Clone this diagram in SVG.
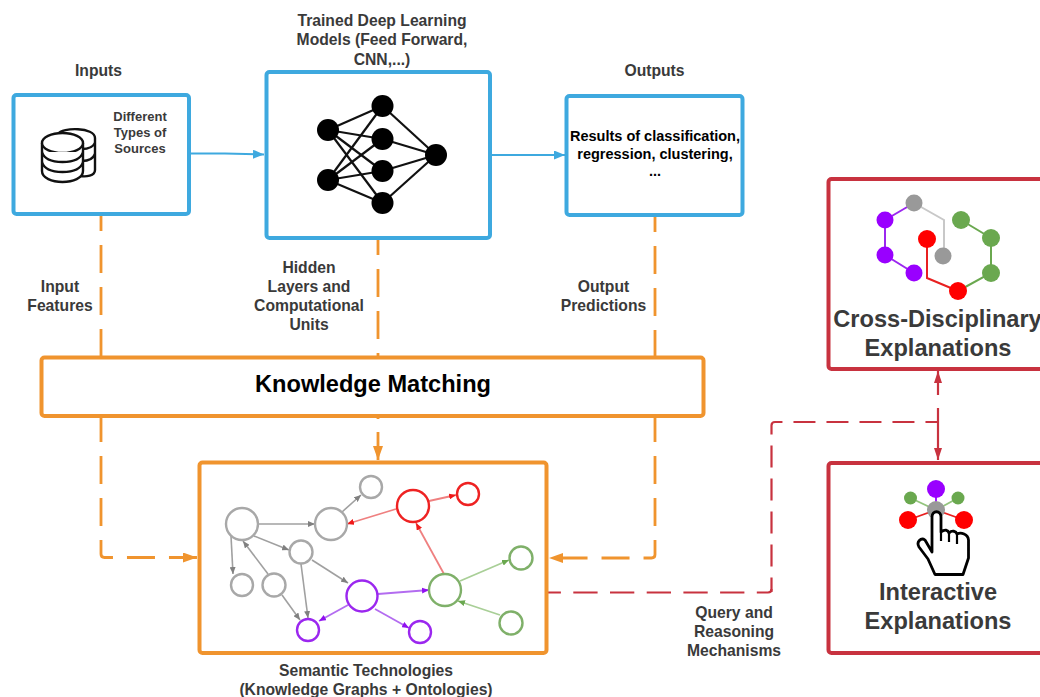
<svg xmlns="http://www.w3.org/2000/svg" width="1040" height="697" viewBox="0 0 1040 697">
<defs>
<marker id="ab" markerUnits="userSpaceOnUse" markerWidth="12" markerHeight="10" refX="11" refY="4.5" orient="auto"><path d="M0 0L11 4.5L0 9Z" fill="#3ea9df"/></marker>
<marker id="ao" markerUnits="userSpaceOnUse" markerWidth="15" markerHeight="11" refX="14" refY="5" orient="auto"><path d="M0 0L14 5L0 10Z" fill="#f0942e"/></marker>
<marker id="ar" markerUnits="userSpaceOnUse" markerWidth="13" markerHeight="9" refX="12" refY="4" orient="auto"><path d="M0 0L12 4L0 8Z" fill="#c8323f"/></marker>
<marker id="mg" markerUnits="userSpaceOnUse" markerWidth="8" markerHeight="6" refX="7" refY="3" orient="auto"><path d="M0 0L7 3L0 6Z" fill="#808080"/></marker>
<marker id="mr" markerUnits="userSpaceOnUse" markerWidth="8" markerHeight="6" refX="7" refY="3" orient="auto"><path d="M0 0L7 3L0 6Z" fill="#f01818"/></marker>
<marker id="mp" markerUnits="userSpaceOnUse" markerWidth="8" markerHeight="6" refX="7" refY="3" orient="auto"><path d="M0 0L7 3L0 6Z" fill="#9010f0"/></marker>
<marker id="mgr" markerUnits="userSpaceOnUse" markerWidth="8" markerHeight="6" refX="7" refY="3" orient="auto"><path d="M0 0L7 3L0 6Z" fill="#6aa84f"/></marker>
</defs>
<style>
text{font-family:"Liberation Sans",Arial,sans-serif;font-weight:700;fill:#3a3a3a;text-anchor:middle}
.s{font-size:15.700px}.t{font-size:13px}.b{font-size:23.600px}.k{fill:#000}
.box{fill:#fff;stroke-width:4;stroke-linejoin:round}
.blue{stroke:#3ea9df}.or{stroke:#f0942e}.red{stroke:#c8323f}
.db{fill:#fff;stroke:#111;stroke-width:2.400}
.nn line{stroke:#111;stroke-width:2.200}
.gc{fill:#fff;stroke:#a8a8a8;stroke-width:2.400}
.rc{fill:#fff;stroke:#ee2222;stroke-width:2.400}
.pc{fill:#fff;stroke:#9b27ef;stroke-width:2.400}
.lc{fill:#fff;stroke:#7fb069;stroke-width:2.400}
.ge{stroke:#a0a0a0;stroke-width:1.600;fill:none;marker-end:url(#mg)}
.re{stroke:#ef8080;stroke-width:1.800;fill:none;marker-end:url(#mr)}
.pe{stroke:#b36cf0;stroke-width:1.800;fill:none;marker-end:url(#mp)}
.le{stroke:#a9cf97;stroke-width:1.800;fill:none;marker-end:url(#mgr)}
</style>

<g id="connectors">
<path d="M190 153.500H225L264 154.500" fill="none" stroke="#3ea9df" stroke-width="2" marker-end="url(#ab)"/>
<path d="M491 155H565" fill="none" stroke="#3ea9df" stroke-width="2" marker-end="url(#ab)"/>
<g stroke="#f0942e" stroke-width="2.800" fill="none" stroke-dasharray="28 14">
<path d="M101 216V357" stroke-dashoffset="13"/>
<path d="M378 240V357" stroke-dashoffset="13"/>
<path d="M655 217V357" stroke-dashoffset="13"/>
<path d="M101 417V554Q101 557.500 104.500 557.500H197" marker-end="url(#ao)" stroke-dashoffset="3"/>
<path d="M655 417V554.500Q655 558 651.500 558H549" marker-end="url(#ao)" stroke-dashoffset="3"/>
</g>
<path d="M378 417V419" stroke="#f0942e" stroke-width="2.800" fill="none"/>
<path d="M378 432V460" stroke="#f0942e" stroke-width="2.800" fill="none" marker-end="url(#ao)"/>
<g fill="none" stroke="#c8323f" stroke-width="2.200">
<path d="M548 592.500H768Q771.500 592.500 771.500 589" stroke-dasharray="24.300 12.400" stroke-dashoffset="11.400"/>
<path d="M771.500 592V425.500Q771.500 422 775 422H938" stroke-dasharray="22 11" stroke-dashoffset="7.500"/>
<path d="M938 422V408M938 395V371" marker-end="url(#ar)"/>
<path d="M938 422V460" marker-end="url(#ar)"/>
</g>
</g>

<g id="inputs">
<text class="s" x="98.500" y="75.500">Inputs</text>
<rect class="box blue" x="13.500" y="95" width="175.500" height="119" rx="3"/>
<text class="t" x="140" y="121">Different</text>
<text class="t" x="140" y="137">Types of</text>
<text class="t" x="140" y="153">Sources</text>
<g id="database-icon">
<path class="db" d="M58 134C62 127 95 127 95 138V170C95 176 86 177 80 176"/>
<path class="db" fill="none" d="M82 149C88 149 93 147 95 143M82 161C88 161 93 159 95 154"/>
<path class="db" d="M42 143V171C42 178 52 182 62.500 182S83 178 83 171V143"/>
<ellipse class="db" cx="62.500" cy="143" rx="20.500" ry="10"/>
<path class="db" fill="none" d="M42 152C44 159 52 162 62.500 162S81 159 83 152M42 162C44 169 52 172 62.500 172S81 169 83 162"/>
</g>
</g>

<g id="models">
<text class="s" x="382" y="26">Trained Deep Learning</text>
<text class="s" x="382" y="45">Models (Feed Forward,</text>
<text class="s" x="382" y="64.500">CNN,...)</text>
<rect class="box blue" x="266.500" y="72" width="223.500" height="166" rx="3"/>
<g id="network-icon" class="nn">
<line x1="328" y1="130" x2="382.500" y2="106"/><line x1="328" y1="130" x2="382.500" y2="139"/><line x1="328" y1="130" x2="382.500" y2="171"/><line x1="328" y1="130" x2="382.500" y2="203"/>
<line x1="328" y1="180" x2="382.500" y2="106"/><line x1="328" y1="180" x2="382.500" y2="139"/><line x1="328" y1="180" x2="382.500" y2="171"/><line x1="328" y1="180" x2="382.500" y2="203"/>
<line x1="436" y1="155" x2="382.500" y2="106"/><line x1="436" y1="155" x2="382.500" y2="139"/><line x1="436" y1="155" x2="382.500" y2="171"/><line x1="436" y1="155" x2="382.500" y2="203"/>
<circle cx="328" cy="130" r="11"/><circle cx="328" cy="180" r="11"/>
<circle cx="382.500" cy="106" r="11"/><circle cx="382.500" cy="139" r="11"/><circle cx="382.500" cy="171" r="11"/><circle cx="382.500" cy="203" r="11"/>
<circle cx="436" cy="155" r="11"/>
</g>
</g>

<g id="outputs">
<text class="s" x="654.500" y="75.500">Outputs</text>
<rect class="box blue" x="566.500" y="96" width="176" height="119" rx="3"/>
<text class="k" font-size="14.500" x="655" y="141">Results of classification,</text>
<text class="k" font-size="14.500" x="655" y="159">regression, clustering,</text>
<text class="k" font-size="14.500" x="655" y="176">...</text>
</g>

<g id="label-input-features"><text class="s" x="60" y="292">Input</text><text class="s" x="60" y="311">Features</text></g>
<g id="label-hidden"><text class="s" x="309" y="272.500">Hidden</text><text class="s" x="309" y="291.500">Layers and</text><text class="s" x="309" y="310.500">Computational</text><text class="s" x="309" y="329.500">Units</text></g>
<g id="label-output-predictions"><text class="s" x="603.500" y="291.500">Output</text><text class="s" x="603.500" y="310.500">Predictions</text></g>

<g id="knowledge-matching">
<rect class="box or" x="41.500" y="357.500" width="662" height="58.500" rx="3"/>
<text class="b k" x="373" y="392">Knowledge Matching</text>
</g>

<g id="semantic-technologies">
<rect class="box or" x="199.500" y="462.500" width="347" height="190.500" rx="3"/>
<g id="graph-edges">
<path class="ge" d="M258 524H315"/>
<path class="ge" d="M342 512L361 495"/>
<path class="ge" d="M254 536L289 550"/>
<path class="ge" d="M231 536L233 574"/>
<path class="ge" d="M268 574L243 541"/>
<path class="ge" d="M312 560L348 583"/>
<path class="ge" d="M301 564L308 618"/>
<path class="ge" d="M282 595L300 620"/>
<path class="re" d="M396 509L347 524"/>
<path class="re" d="M429 501L456 495"/>
<path class="re" d="M444 574L416 523"/>
<path class="pe" d="M348 605L319 621"/>
<path class="pe" d="M378 594L429 590"/>
<path class="pe" d="M375 609L409 628"/>
<path class="le" d="M460 581L509 560"/>
<path class="le" d="M500 615L458 601"/>
</g>
<g id="graph-nodes">
<circle class="gc" cx="242" cy="524" r="16"/><circle class="gc" cx="331" cy="524" r="16"/><circle class="gc" cx="371" cy="487" r="11"/><circle class="gc" cx="301" cy="552" r="11.500"/><circle class="gc" cx="242" cy="585" r="11"/><circle class="gc" cx="274" cy="585" r="11.500"/>
<circle class="pc" cx="362" cy="596" r="15.500"/><circle class="pc" cx="308" cy="630" r="11"/><circle class="pc" cx="420" cy="632" r="11"/>
<circle class="rc" cx="413" cy="506" r="16"/><circle class="rc" cx="468" cy="494" r="11"/>
<circle class="lc" cx="445" cy="590" r="16"/><circle class="lc" cx="521" cy="558" r="11.500"/><circle class="lc" cx="511" cy="623" r="11.500"/>
</g>
<text class="s" x="366" y="675.500">Semantic Technologies</text>
<text class="s" x="366" y="694.500">(Knowledge Graphs + Ontologies)</text>
</g>

<g id="label-query"><text class="s" x="734" y="617.500">Query and</text><text class="s" x="734" y="636.500">Reasoning</text><text class="s" x="734" y="655.500">Mechanisms</text></g>

<g id="cross-disciplinary">
<rect class="box red" x="828.500" y="179" width="230" height="190" rx="3"/>
<g fill="none" stroke-width="2">
<path d="M885 220L914 203" stroke="#9b27ef"/>
<path d="M885 220V255L914 273" stroke="#9b27ef"/>
<path d="M914 203L944 220V256" stroke="#c8c8c8"/>
<path d="M961 220L991 238V273L958 291" stroke="#6aa84f"/>
<path d="M927 239V278L958 291" stroke="#e82020"/>
</g>
<g fill="#9900ff"><circle cx="885" cy="220" r="8.500"/><circle cx="885" cy="255" r="8.500"/><circle cx="914" cy="273" r="8.500"/></g>
<g fill="#999"><circle cx="914" cy="203" r="8.500"/><circle cx="943" cy="256" r="8.500"/></g>
<g fill="#6aa84f"><circle cx="961" cy="220" r="9"/><circle cx="991" cy="238" r="9"/><circle cx="991" cy="273" r="9"/></g>
<g fill="#f00"><circle cx="958" cy="291" r="9"/><circle cx="927" cy="239" r="9"/></g>
<text class="b" x="937.500" y="326.500">Cross-Disciplinary</text>
<text class="b" x="938" y="355.500">Explanations</text>
</g>

<g id="interactive">
<rect class="box red" x="828.500" y="463" width="230" height="190" rx="3"/>
<g fill="none" stroke-width="1.800">
<path d="M910.500 498L936 510L958 498" stroke="#93c47d"/>
<path d="M936 489V510" stroke="#9900ff"/>
<path d="M908 520L936 510L964 520" stroke="#e82020"/>
</g>
<circle cx="936" cy="489" r="9" fill="#9900ff"/>
<circle cx="910.500" cy="498" r="6.500" fill="#6aa84f"/><circle cx="958" cy="498" r="6.500" fill="#6aa84f"/>
<circle cx="936" cy="510" r="9" fill="#999"/>
<circle cx="908" cy="520" r="9" fill="#f00"/><circle cx="964" cy="520" r="9" fill="#f00"/>
<path d="M932 552V517C932 510 941 510 941 517V532C945 529 948 530 949 533C952 530 956 531 957 534C961 532 968 534 968.500 540V558L963 574.500H935L928 559L919 547C916 542 921 537 925 540Z" fill="#fff" stroke="#000" stroke-width="2.800" stroke-linejoin="round"/>
<path d="M941 532V541M949 533V542M957 534V544" fill="none" stroke="#000" stroke-width="2.200"/>
<text class="b" x="938" y="600">Interactive</text>
<text class="b" x="938" y="629">Explanations</text>
</g>
</svg>
